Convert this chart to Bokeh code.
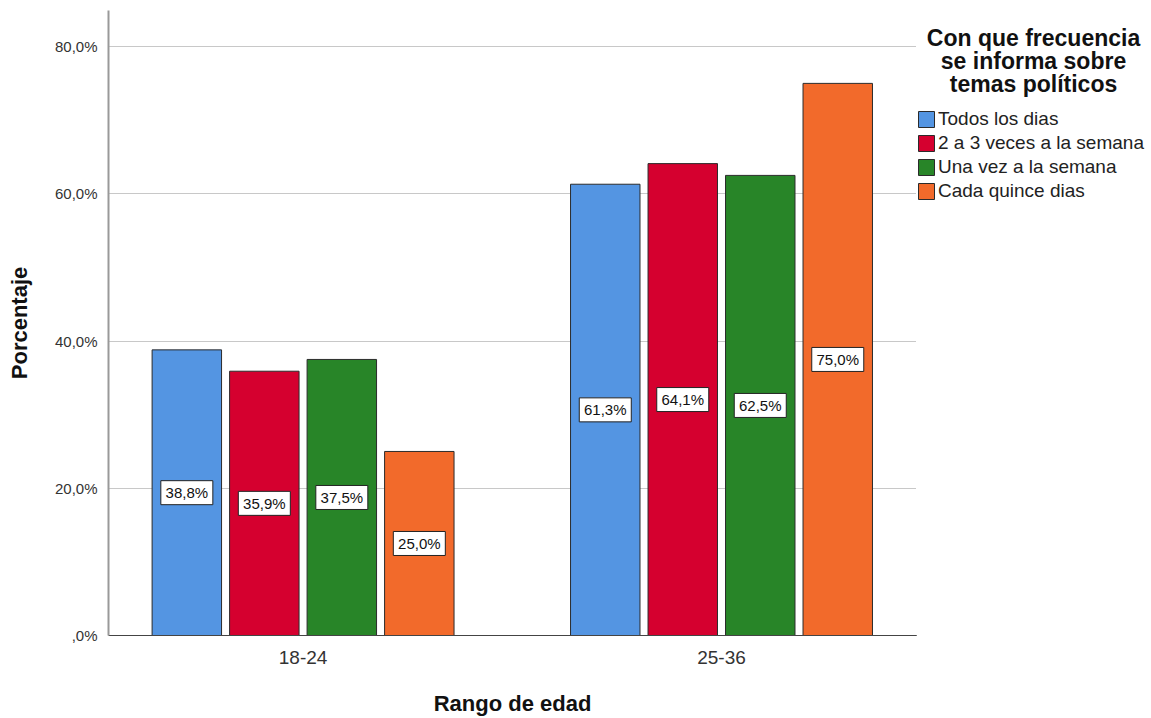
from bokeh.plotting import figure
from bokeh.layouts import row
from bokeh.models import ColumnDataSource, Range1d, FixedTicker, Legend, LegendItem, Label
from bokeh.core.properties import value
from bokeh.embed import file_html
from bokeh.resources import INLINE

# ---- data ----
categories = ["18-24", "25-36"]
series = ["Todos los dias", "2 a 3 veces a la semana", "Una vez a la semana", "Cada quince dias"]
todos_los_dias = [38.8, 61.3]
dos_a_tres = [35.9, 64.1]
una_vez = [37.5, 62.5]
cada_quince = [25.0, 75.0]
y_ticks = [0, 20, 40, 60, 80]
y_tick_labels = [",0%", "20,0%", "40,0%", "60,0%", "80,0%"]
legend_title = ["Con que frecuencia", "se informa sobre", "temas políticos"]

# ---- style / layout ----
colors = ["#5495E2", "#D5002F", "#288528", "#F26A2B"]
FONT = "Liberation Sans"
step = 0.1852
offsets = [-1.5 * step, -0.5 * step, 0.5 * step, 1.5 * step]
bar_w = 0.166
W, H = 1151, 718
MAIN_W = 916

p = figure(width=MAIN_W, height=H, x_range=Range1d(0.535, 2.466), y_range=Range1d(0, 84.9),
           output_backend="svg", toolbar_location=None,
           min_border_left=108, min_border_right=0, min_border_top=10, min_border_bottom=82)
p.outline_line_color = None
p.background_fill_color = "white"
p.border_fill_color = "white"

# axes
p.xaxis.ticker = FixedTicker(ticks=[i + 1 for i in range(len(categories))])
p.xaxis.major_label_overrides = {i + 1: c for i, c in enumerate(categories)}
p.yaxis.ticker = FixedTicker(ticks=y_ticks)
p.yaxis.major_label_overrides = {t: l for t, l in zip(y_ticks, y_tick_labels)}
for ax in (p.xaxis, p.yaxis):
    ax.major_tick_line_color = None
    ax.minor_tick_line_color = None
    ax.major_label_text_font = FONT
    ax.major_label_text_color = "#333333"
    ax.axis_label_text_font = FONT
    ax.axis_label_text_font_style = "bold"
    ax.axis_label_text_font_size = "22px"
    ax.axis_label_text_color = "#111111"
p.xaxis.axis_line_color = "#444444"
p.xaxis.axis_line_width = 1.2
p.yaxis.axis_line_color = "#999999"
p.yaxis.axis_line_width = 2
p.xaxis.major_label_text_font_size = "19px"
p.yaxis.major_label_text_font_size = "15px"
p.xaxis.major_label_standoff = 9
p.yaxis.major_label_standoff = 5
p.xaxis.axis_label = "Rango de edad"
p.yaxis.axis_label = "Porcentaje"
p.xaxis.axis_label_standoff = 24
p.yaxis.axis_label_standoff = 20

p.xgrid.visible = False
p.ygrid.ticker = FixedTicker(ticks=y_ticks)
p.ygrid.grid_line_color = "#c8c8c8"
p.ygrid.grid_line_width = 1

# bars
all_vals = [todos_los_dias, dos_a_tres, una_vez, cada_quince]
lx, ly, lt = [], [], []
for i, (name, vals) in enumerate(zip(series, all_vals)):
    xs = [k + 1 + offsets[i] for k in range(len(categories))]
    src = ColumnDataSource(dict(x=xs, top=vals))
    p.vbar(x="x", top="top", bottom=0, width=bar_w, source=src,
           fill_color=colors[i], line_color="#2b2b2b", line_width=1)
    for x, v in zip(xs, vals):
        lx.append(x)
        ly.append(v / 2)
        lt.append(f"{v:.1f}".replace(".", ",") + "%")

lsrc = ColumnDataSource(dict(x=lx, y=ly, t=lt))
p.rect(x="x", y="y", width=52, height=24, width_units="screen", height_units="screen",
       fill_color="white", line_color="#222222", line_width=1, source=lsrc)
p.text(x="x", y="y", text="t", text_align="center", text_baseline="middle",
       text_font=value(FONT), text_font_size="15px", text_color="#111111", source=lsrc)

# ---- legend panel (frame aligned with main plot frame) ----
p2 = figure(width=W - MAIN_W, height=H, x_range=Range1d(0, 1), y_range=Range1d(0, 1),
            output_backend="svg", toolbar_location=None,
            x_axis_location=None, y_axis_location=None, min_border=0)
p2.outline_line_color = None
p2.grid.visible = False
p2.background_fill_color = "white"
p2.border_fill_color = "white"

items = []
for i, name in enumerate(series):
    # legend proxy: a zero-height bar placed outside the visible range
    r = p2.vbar(x=[-5], top=[0], width=0.1, fill_color=colors[i], line_color="#2b2b2b", line_width=1)
    items.append(LegendItem(label=name, renderers=[r]))

legend = Legend(items=items, location=(0, 433), padding=0, margin=0, spacing=2,
                glyph_width=20, glyph_height=20, label_standoff=2, label_height=18,
                label_text_font=FONT, label_text_font_size="19px", label_text_color="#222222",
                border_line_color=None, background_fill_alpha=0)
p2.add_layout(legend)

for j, line in enumerate(legend_title):
    p2.add_layout(Label(x=117, y=598 - 23 * j, x_units="screen", y_units="screen", text=line,
                        text_align="center", text_baseline="middle", text_font=FONT,
                        text_font_size="23px", text_font_style="bold", text_color="#111111"))

layout = row(p, p2)
open("out.html", "w").write(file_html(layout, INLINE))
